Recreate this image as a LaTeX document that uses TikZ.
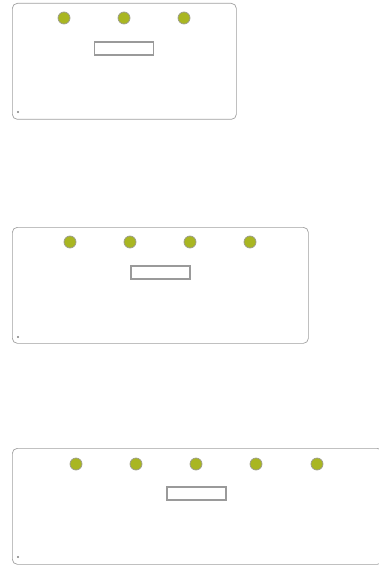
\documentclass[tikz,border=0pt]{standalone}
\usepackage{xcolor}
\usepackage{tikz}
\usetikzlibrary{positioning}
\definecolor{panebd}{HTML}{A0A0A0}
\definecolor{dotfill}{HTML}{A9B622}
\definecolor{dotbd}{HTML}{9C9C8C}
\definecolor{boxbd}{HTML}{9A9A9A}
\tikzset{
  pane/.style={draw=panebd, fill=white, rounded corners=5pt, line width=0.7pt, anchor=north west, inner sep=0pt},
  knob/.style={circle, draw=dotbd, fill=dotfill, line width=0.7pt, minimum size=12pt, inner sep=0pt},
  slot/.style={draw=boxbd, fill=white, line width=1.3pt, minimum width=59pt, minimum height=13pt, inner sep=0pt},
  pin/.style={circle, fill=gray, minimum size=2.2pt, inner sep=0pt}
}
\begin{document}
\begin{tikzpicture}[x=1pt, y=-1pt]
\useasboundingbox (0,0) rectangle (379,567);
\clip (0,0) rectangle (379,567);
% first panel
\node[pane, minimum width=224pt, minimum height=116pt] (p1) at (12,3) {};
\node[knob] (k11) at (64,18) {};
\node[knob] (k12) at (124,18) {};
\node[knob] (k13) at (184,18) {};
\node[slot] (s1) at (124,48.5) {};
\node[pin] (d1) at (18,112) {};
% second panel
\node[pane, minimum width=296pt, minimum height=116pt] (p2) at (12,227) {};
\node[knob] (k21) at (70,242) {};
\node[knob] (k22) at (130,242) {};
\node[knob] (k23) at (190,242) {};
\node[knob] (k24) at (250,242) {};
\node[slot] (s2) at (160.5,272.5) {};
\node[pin] (d2) at (18,337) {};
% third panel
\node[pane, minimum width=370pt, minimum height=116pt] (p3) at (12,448) {};
\node[knob] (k31) at (76,464) {};
\node[knob] (k32) at (136,464) {};
\node[knob] (k33) at (196,464) {};
\node[knob] (k34) at (256,464) {};
\node[knob] (k35) at (317,464) {};
\node[slot] (s3) at (196.5,493.5) {};
\node[pin] (d3) at (18,557) {};
\end{tikzpicture}
\end{document}
